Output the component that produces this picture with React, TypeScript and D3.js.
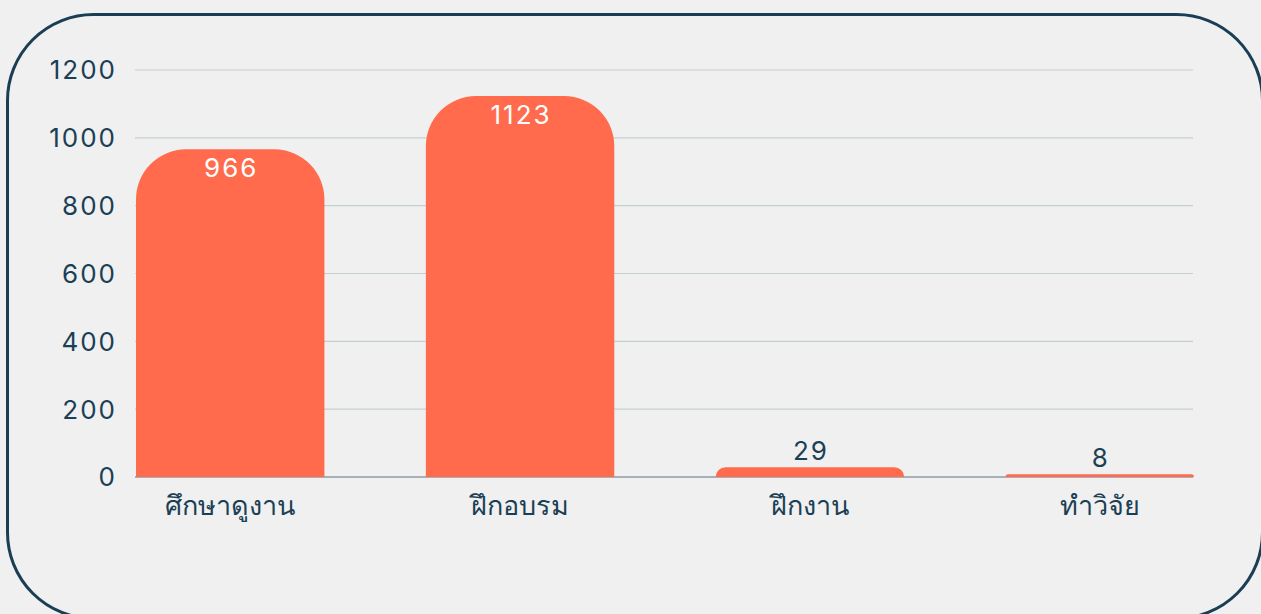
import React from "react";
import * as d3 from "d3";

const categories = ["ศึกษาดูงาน", "ฝึกอบรม", "ฝึกงาน", "ทำวิจัย"];
const values = [966, 1123, 29, 8];
const yTicks = [0, 200, 400, 600, 800, 1000, 1200];

const W = 1261;
const H = 614;
const left = 136;
const right = 1194;
const gridLeft = 135;
const gridRight = 1193;
const top = 70;
const bottom = 477;
const textColor = "#1b3f55";
const barColor = "#ff6b4c";

function barPath(x0: number, w: number, y0: number, yb: number, r: number) {
  const h = yb - y0;
  const rr = Math.min(r, h, w / 2);
  const p = d3.path();
  p.moveTo(x0, yb);
  p.lineTo(x0, y0 + rr);
  p.arcTo(x0, y0, x0 + rr, y0, rr);
  p.lineTo(x0 + w - rr, y0);
  p.arcTo(x0 + w, y0, x0 + w, y0 + rr, rr);
  p.lineTo(x0 + w, yb);
  p.closePath();
  return p.toString();
}

export default function App() {
  const x = d3.scaleBand<string>().domain(categories).range([left, right]).paddingInner(0.35).paddingOuter(0);
  const y = d3.scaleLinear().domain([0, 1200]).range([bottom, top]);
  const font = "Inter, 'Noto Sans', sans-serif";
  return (
    <svg width={W} height={H} style={{ position: "absolute", left: 0, top: 0, background: "#f0f0f0" }}>
      <rect x={0} y={0} width={W} height={H} fill="#f0f0f0" />
      <rect x={7.5} y={14.5} width={1255} height={604} rx={86} ry={86} fill="none" stroke="#1a3e53" strokeWidth={3} />
      {yTicks.map((t) => (
        <g key={t}>
          {t > 0 && <line x1={gridLeft} x2={gridRight} y1={y(t)} y2={y(t)} stroke="#c4cfd1" strokeWidth={1.2} />}
          <text x={117} y={y(t)} dy="0.36em" textAnchor="end" fontFamily={font} fontSize={26} letterSpacing={2} fill={textColor}>
            {t}
          </text>
        </g>
      ))}
      <line x1={gridLeft} x2={gridRight} y1={bottom} y2={bottom} stroke="#5f7381" strokeWidth={1.2} />
      {categories.map((c, i) => {
        const x0 = x(c)!;
        const w = x.bandwidth();
        const yt = y(values[i]);
        const inside = bottom - yt > 40;
        return (
          <g key={c}>
            <path d={barPath(x0, w, yt, bottom, 50)} fill={barColor} />
            <text
              x={x0 + w / 2 + 1}
              y={inside ? yt + 28 : yt - 7}
              textAnchor="middle"
              fontFamily={font}
              fontSize={26}
              letterSpacing={2}
              fill={inside ? "#ffffff" : textColor}
            >
              {values[i]}
            </text>
            <text x={x0 + w / 2} y={515} textAnchor="middle" fontFamily={font} fontSize={27} fill={textColor}>
              {c}
            </text>
          </g>
        );
      })}
    </svg>
  );
}
